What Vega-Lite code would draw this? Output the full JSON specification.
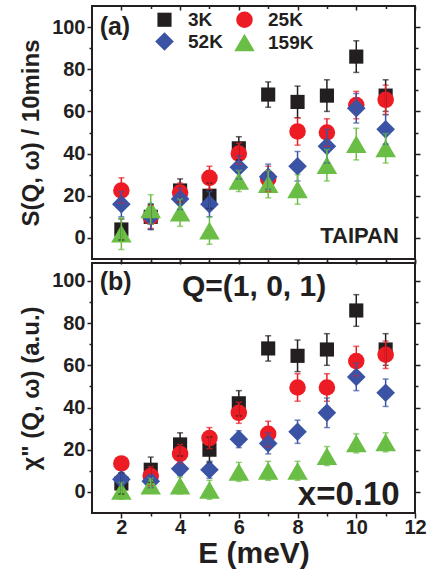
{
  "$schema": "https://vega.github.io/schema/vega-lite/v6.json",
  "padding": {"left": 18, "top": 4, "right": 0, "bottom": 0},
  "bounds": "flush",
  "spacing": 4,
  "datasets": {
    "a": [
      {"E": 2, "T": "3K", "v": 4, "lo": -1, "hi": 9},
      {"E": 3, "T": "3K", "v": 10, "lo": 4, "hi": 16},
      {"E": 4, "T": "3K", "v": 22.5, "lo": 17, "hi": 28},
      {"E": 5, "T": "3K", "v": 20, "lo": 14, "hi": 26},
      {"E": 6, "T": "3K", "v": 42.5, "lo": 37, "hi": 48},
      {"E": 7, "T": "3K", "v": 68, "lo": 62, "hi": 74},
      {"E": 8, "T": "3K", "v": 64.5, "lo": 57, "hi": 72},
      {"E": 9, "T": "3K", "v": 67.5, "lo": 60, "hi": 75},
      {"E": 10, "T": "3K", "v": 86, "lo": 78.5, "hi": 93.5},
      {"E": 11, "T": "3K", "v": 67.5, "lo": 60, "hi": 75},
      {"E": 2, "T": "25K", "v": 22.5, "lo": 16.5, "hi": 28.5},
      {"E": 3, "T": "25K", "v": 10, "lo": 4.5, "hi": 15.5},
      {"E": 4, "T": "25K", "v": 21.5, "lo": 17, "hi": 26},
      {"E": 5, "T": "25K", "v": 28.5, "lo": 23, "hi": 34},
      {"E": 6, "T": "25K", "v": 40, "lo": 35, "hi": 45},
      {"E": 7, "T": "25K", "v": 28, "lo": 22, "hi": 34},
      {"E": 8, "T": "25K", "v": 50.5, "lo": 44, "hi": 57},
      {"E": 9, "T": "25K", "v": 50, "lo": 43.5, "hi": 56.5},
      {"E": 10, "T": "25K", "v": 63, "lo": 56.5, "hi": 69.5},
      {"E": 11, "T": "25K", "v": 65.5, "lo": 58.5, "hi": 72.5},
      {"E": 2, "T": "52K", "v": 16, "lo": 10, "hi": 22},
      {"E": 3, "T": "52K", "v": 10, "lo": 4, "hi": 16},
      {"E": 4, "T": "52K", "v": 18.5, "lo": 13.5, "hi": 23.5},
      {"E": 5, "T": "52K", "v": 16, "lo": 10, "hi": 22},
      {"E": 6, "T": "52K", "v": 33.5, "lo": 28, "hi": 39},
      {"E": 7, "T": "52K", "v": 29, "lo": 23, "hi": 35},
      {"E": 8, "T": "52K", "v": 34, "lo": 27, "hi": 41},
      {"E": 9, "T": "52K", "v": 43.5, "lo": 35.5, "hi": 51.5},
      {"E": 10, "T": "52K", "v": 61.5, "lo": 54.5, "hi": 68.5},
      {"E": 11, "T": "52K", "v": 51.5, "lo": 44.5, "hi": 58.5},
      {"E": 2, "T": "159K", "v": 2, "lo": -5.5, "hi": 9.5},
      {"E": 3, "T": "159K", "v": 13.5, "lo": 6.5, "hi": 20.5},
      {"E": 4, "T": "159K", "v": 12, "lo": 5.5, "hi": 18.5},
      {"E": 5, "T": "159K", "v": 3.5, "lo": -3, "hi": 10},
      {"E": 6, "T": "159K", "v": 27, "lo": 22, "hi": 32},
      {"E": 7, "T": "159K", "v": 25.5, "lo": 19, "hi": 32},
      {"E": 8, "T": "159K", "v": 23, "lo": 16, "hi": 30},
      {"E": 9, "T": "159K", "v": 34.5, "lo": 27, "hi": 42},
      {"E": 10, "T": "159K", "v": 44.5, "lo": 37, "hi": 52},
      {"E": 11, "T": "159K", "v": 42.5, "lo": 35.5, "hi": 49.5}
    ],
    "b": [
      {"E": 2, "T": "3K", "v": 4, "lo": -1, "hi": 9},
      {"E": 3, "T": "3K", "v": 10.5, "lo": 4.5, "hi": 16.5},
      {"E": 4, "T": "3K", "v": 22.5, "lo": 17, "hi": 28},
      {"E": 5, "T": "3K", "v": 20, "lo": 14, "hi": 26},
      {"E": 6, "T": "3K", "v": 42, "lo": 36, "hi": 48},
      {"E": 7, "T": "3K", "v": 68, "lo": 62, "hi": 74},
      {"E": 8, "T": "3K", "v": 64.5, "lo": 57, "hi": 72},
      {"E": 9, "T": "3K", "v": 67.5, "lo": 60, "hi": 75},
      {"E": 10, "T": "3K", "v": 86, "lo": 78.5, "hi": 93.5},
      {"E": 11, "T": "3K", "v": 67.5, "lo": 60, "hi": 75},
      {"E": 2, "T": "25K", "v": 13.5, "lo": 10.5, "hi": 16.5},
      {"E": 3, "T": "25K", "v": 7.5, "lo": 3, "hi": 12},
      {"E": 4, "T": "25K", "v": 18, "lo": 13.5, "hi": 22.5},
      {"E": 5, "T": "25K", "v": 25.5, "lo": 20.5, "hi": 30.5},
      {"E": 6, "T": "25K", "v": 37.5, "lo": 32.5, "hi": 42.5},
      {"E": 7, "T": "25K", "v": 27.5, "lo": 21.5, "hi": 33.5},
      {"E": 8, "T": "25K", "v": 49.5, "lo": 43, "hi": 56},
      {"E": 9, "T": "25K", "v": 49.5, "lo": 43, "hi": 56},
      {"E": 10, "T": "25K", "v": 62, "lo": 55, "hi": 69},
      {"E": 11, "T": "25K", "v": 65, "lo": 58.5, "hi": 71.5},
      {"E": 2, "T": "52K", "v": 6, "lo": 3, "hi": 9},
      {"E": 3, "T": "52K", "v": 5, "lo": 2, "hi": 8},
      {"E": 4, "T": "52K", "v": 11, "lo": 8, "hi": 14},
      {"E": 5, "T": "52K", "v": 10.5, "lo": 6.5, "hi": 14.5},
      {"E": 6, "T": "52K", "v": 25, "lo": 21, "hi": 29},
      {"E": 7, "T": "52K", "v": 23, "lo": 18, "hi": 28},
      {"E": 8, "T": "52K", "v": 28.5, "lo": 23, "hi": 34},
      {"E": 9, "T": "52K", "v": 37.5, "lo": 30.5, "hi": 44.5},
      {"E": 10, "T": "52K", "v": 54.5, "lo": 48, "hi": 61},
      {"E": 11, "T": "52K", "v": 47, "lo": 40.5, "hi": 53.5},
      {"E": 2, "T": "159K", "v": 0.5, "lo": -3.5, "hi": 4.5},
      {"E": 3, "T": "159K", "v": 3, "lo": -0.5, "hi": 6.5},
      {"E": 4, "T": "159K", "v": 3, "lo": -1, "hi": 7},
      {"E": 5, "T": "159K", "v": 1, "lo": -3.5, "hi": 5.5},
      {"E": 6, "T": "159K", "v": 9.5, "lo": 5, "hi": 14},
      {"E": 7, "T": "159K", "v": 10, "lo": 5.5, "hi": 14.5},
      {"E": 8, "T": "159K", "v": 10, "lo": 5.5, "hi": 14.5},
      {"E": 9, "T": "159K", "v": 17, "lo": 12.5, "hi": 21.5},
      {"E": 10, "T": "159K", "v": 23, "lo": 18.5, "hi": 27.5},
      {"E": 11, "T": "159K", "v": 23.5, "lo": 19, "hi": 28}
    ]
  },
  "resolve": {"scale": {"color": "independent", "shape": "independent", "size": "independent"}},
  "vconcat": [
    {
      "width": 323,
      "height": 253,
      "data": {"name": "a"},
      "resolve": {"axis": {"x": "independent", "y": "independent"}},
      "layer": [
        {
          "mark": {"type": "point", "filled": true, "opacity": 1},
          "encoding": {
            "x": {"field": "E", "type": "quantitative", "scale": {"domain": [1, 12], "nice": false, "zero": false},
                  "axis": {"orient": "bottom", "values": [2, 4, 6, 8, 10, 12], "labels": false, "tickSize": 5, "title": null}},
            "y": {"field": "v", "type": "quantitative", "scale": {"domain": [-10, 110], "nice": false, "zero": false},
                  "axis": {"orient": "left", "values": [0, 20, 40, 60, 80, 100], "tickSize": 5, "labelPadding": 2, "title": "S(Q, ω) / 10mins", "titleFontSize": 24, "titlePadding": 8}},
            "color": {"field": "T", "type": "nominal", "sort": ["3K", "25K", "52K", "159K"],
                      "scale": {"domain": ["3K", "25K", "52K", "159K"], "range": ["#231f20", "#ed1c24", "#3a53a4", "#6abd45"]},
                      "legend": {"orient": "none", "direction": "horizontal", "legendX": 62, "legendY": 4, "columns": 2, "title": null}},
            "shape": {"field": "T", "type": "nominal", "sort": ["3K", "25K", "52K", "159K"],
                      "scale": {"domain": ["3K", "25K", "52K", "159K"], "range": ["square", "circle", "diamond", "triangle-up"]},
                      "legend": {"orient": "none", "direction": "horizontal", "legendX": 62, "legendY": 4, "columns": 2, "title": null}},
            "size": {"field": "T", "type": "nominal", "sort": ["3K", "25K", "52K", "159K"],
                     "scale": {"domain": ["3K", "25K", "52K", "159K"], "range": [200, 420], "padding": 0},
                     "legend": {"orient": "none", "direction": "horizontal", "legendX": 62, "legendY": 4, "columns": 2, "title": null}}
          }
        },
        {
          "mark": {"type": "errorbar", "ticks": true, "size": 6, "thickness": 1.5},
          "encoding": {
            "x": {"field": "E", "type": "quantitative", "scale": {"domain": [1, 12], "nice": false, "zero": false}, "axis": null},
            "y": {"field": "lo", "type": "quantitative", "scale": {"domain": [-10, 110], "nice": false, "zero": false}, "axis": null},
            "y2": {"field": "hi"},
            "color": {"field": "T", "type": "nominal", "legend": null}
          }
        },
        {
          "mark": {"type": "point", "opacity": 0},
          "encoding": {
            "x": {"field": "E", "type": "quantitative", "scale": {"domain": [1, 12], "nice": false, "zero": false},
                  "axis": {"orient": "bottom", "values": [3, 5, 7, 9, 11], "labels": false, "tickSize": 3, "title": null}},
            "y": {"field": "v", "type": "quantitative", "scale": {"domain": [-10, 110], "nice": false, "zero": false},
                  "axis": {"orient": "left", "values": [10, 30, 50, 70, 90], "labels": false, "tickSize": 3, "title": null}}
          }
        },
        {
          "mark": {"type": "point", "opacity": 0},
          "encoding": {
            "x": {"field": "E", "type": "quantitative", "scale": {"domain": [1, 12], "nice": false, "zero": false},
                  "axis": {"orient": "top", "values": [2, 4, 6, 8, 10, 12], "labels": false, "tickSize": -4, "title": null}},
            "y": {"field": "v", "type": "quantitative", "scale": {"domain": [-10, 110], "nice": false, "zero": false},
                  "axis": {"orient": "right", "values": [0, 20, 40, 60, 80, 100], "labels": false, "tickSize": 5, "title": null}}
          }
        },
        {
          "mark": {"type": "point", "opacity": 0},
          "encoding": {
            "x": {"field": "E", "type": "quantitative", "scale": {"domain": [1, 12], "nice": false, "zero": false},
                  "axis": {"orient": "top", "values": [3, 5, 7, 9, 11], "labels": false, "tickSize": -2.5, "title": null}},
            "y": {"field": "v", "type": "quantitative", "scale": {"domain": [-10, 110], "nice": false, "zero": false},
                  "axis": {"orient": "right", "values": [10, 30, 50, 70, 90], "labels": false, "tickSize": 3, "title": null}}
          }
        },
        {
          "data": {"values": [{"label": "(a)"}]},
          "mark": {"type": "text", "align": "left", "baseline": "middle", "fontSize": 25, "fontWeight": "bold", "font": "Liberation Sans", "color": "#231f20"},
          "encoding": {
            "x": {"datum": 1.26, "type": "quantitative", "axis": null},
            "y": {"datum": 100, "type": "quantitative", "axis": null},
            "text": {"field": "label"}
          }
        },
        {
          "data": {"values": [{"label": "TAIPAN"}]},
          "mark": {"type": "text", "align": "right", "baseline": "middle", "fontSize": 22, "fontWeight": "bold", "font": "Liberation Sans", "color": "#231f20"},
          "encoding": {
            "x": {"datum": 11.45, "type": "quantitative", "axis": null},
            "y": {"datum": 1, "type": "quantitative", "axis": null},
            "text": {"field": "label"}
          }
        }
      ]
    },
    {
      "width": 323,
      "height": 250,
      "data": {"name": "b"},
      "resolve": {"axis": {"x": "independent", "y": "independent"}},
      "layer": [
        {
          "mark": {"type": "point", "filled": true, "opacity": 1},
          "encoding": {
            "x": {"field": "E", "type": "quantitative", "scale": {"domain": [1, 12], "nice": false, "zero": false},
                  "axis": {"orient": "bottom", "values": [2, 4, 6, 8, 10, 12], "tickSize": 5, "labelPadding": -1, "labelFontSize": 20, "title": "E (meV)", "titleFontSize": 30, "titlePadding": 1}},
            "y": {"field": "v", "type": "quantitative", "scale": {"domain": [-10, 108.5], "nice": false, "zero": false},
                  "axis": {"orient": "left", "values": [0, 20, 40, 60, 80, 100], "tickSize": 5, "labelPadding": 2, "title": "χ\" (Q, ω) (a.u.)", "titleFontSize": 24, "titlePadding": 8}},
            "color": {"field": "T", "type": "nominal",
                      "scale": {"domain": ["3K", "25K", "52K", "159K"], "range": ["#231f20", "#ed1c24", "#3a53a4", "#6abd45"]}, "legend": null},
            "shape": {"field": "T", "type": "nominal",
                      "scale": {"domain": ["3K", "25K", "52K", "159K"], "range": ["square", "circle", "diamond", "triangle-up"]}, "legend": null},
            "size": {"field": "T", "type": "nominal",
                     "scale": {"domain": ["3K", "25K", "52K", "159K"], "range": [200, 420], "padding": 0}, "legend": null}
          }
        },
        {
          "mark": {"type": "errorbar", "ticks": true, "size": 6, "thickness": 1.5},
          "encoding": {
            "x": {"field": "E", "type": "quantitative", "scale": {"domain": [1, 12], "nice": false, "zero": false}, "axis": null},
            "y": {"field": "lo", "type": "quantitative", "scale": {"domain": [-10, 108.5], "nice": false, "zero": false}, "axis": null},
            "y2": {"field": "hi"},
            "color": {"field": "T", "type": "nominal", "legend": null}
          }
        },
        {
          "mark": {"type": "point", "opacity": 0},
          "encoding": {
            "x": {"field": "E", "type": "quantitative", "scale": {"domain": [1, 12], "nice": false, "zero": false},
                  "axis": {"orient": "bottom", "values": [3, 5, 7, 9, 11], "labels": false, "tickSize": 3, "title": null}},
            "y": {"field": "v", "type": "quantitative", "scale": {"domain": [-10, 108.5], "nice": false, "zero": false},
                  "axis": {"orient": "left", "values": [10, 30, 50, 70, 90], "labels": false, "tickSize": 3, "title": null}}
          }
        },
        {
          "mark": {"type": "point", "opacity": 0},
          "encoding": {
            "x": {"field": "E", "type": "quantitative", "scale": {"domain": [1, 12], "nice": false, "zero": false},
                  "axis": {"orient": "top", "values": [2, 4, 6, 8, 10, 12], "labels": false, "tickSize": 4, "title": null}},
            "y": {"field": "v", "type": "quantitative", "scale": {"domain": [-10, 108.5], "nice": false, "zero": false},
                  "axis": {"orient": "right", "values": [0, 20, 40, 60, 80, 100], "labels": false, "tickSize": 5, "title": null}}
          }
        },
        {
          "mark": {"type": "point", "opacity": 0},
          "encoding": {
            "x": {"field": "E", "type": "quantitative", "scale": {"domain": [1, 12], "nice": false, "zero": false},
                  "axis": {"orient": "top", "values": [3, 5, 7, 9, 11], "labels": false, "tickSize": 2.5, "title": null}},
            "y": {"field": "v", "type": "quantitative", "scale": {"domain": [-10, 108.5], "nice": false, "zero": false},
                  "axis": {"orient": "right", "values": [10, 30, 50, 70, 90], "labels": false, "tickSize": 3, "title": null}}
          }
        },
        {
          "data": {"values": [{"label": "(b)"}]},
          "mark": {"type": "text", "align": "left", "baseline": "middle", "fontSize": 25, "fontWeight": "bold", "font": "Liberation Sans", "color": "#231f20"},
          "encoding": {
            "x": {"datum": 1.26, "type": "quantitative", "axis": null},
            "y": {"datum": 99.5, "type": "quantitative", "axis": null},
            "text": {"field": "label"}
          }
        },
        {
          "data": {"values": [{"label": "Q=(1, 0, 1)"}]},
          "mark": {"type": "text", "align": "center", "baseline": "middle", "fontSize": 30, "fontWeight": "bold", "font": "Liberation Sans", "color": "#231f20"},
          "encoding": {
            "x": {"datum": 6.52, "type": "quantitative", "axis": null},
            "y": {"datum": 97.3, "type": "quantitative", "axis": null},
            "text": {"field": "label"}
          }
        },
        {
          "data": {"values": [{"label": "x=0.10"}]},
          "mark": {"type": "text", "align": "right", "baseline": "middle", "fontSize": 33, "fontWeight": "bold", "font": "Liberation Sans", "color": "#231f20"},
          "encoding": {
            "x": {"datum": 11.48, "type": "quantitative", "axis": null},
            "y": {"datum": -1.5, "type": "quantitative", "axis": null},
            "text": {"field": "label"}
          }
        }
      ]
    }
  ],
  "config": {
    "background": "white",
    "view": {"stroke": "#231f20", "strokeWidth": 2},
    "font": "Liberation Sans",
    "axis": {
      "domain": false,
      "grid": false,
      "tickColor": "#231f20",
      "tickWidth": 1.5,
      "labelFont": "Liberation Sans",
      "labelFontWeight": "bold",
      "labelFontSize": 20,
      "labelColor": "#231f20",
      "labelFlush": false,
      "labelOverlap": false,
      "titleFont": "Liberation Sans",
      "titleFontWeight": "bold",
      "titleColor": "#231f20"
    },
    "legend": {
      "labelFont": "Liberation Sans",
      "labelFontWeight": "bold",
      "labelFontSize": 19,
      "labelColor": "#231f20",
      "labelOffset": 13,
      "columnPadding": 11,
      "rowPadding": 2,
      "symbolStrokeWidth": 0,
      "symbolOpacity": 1
    }
  }
}
